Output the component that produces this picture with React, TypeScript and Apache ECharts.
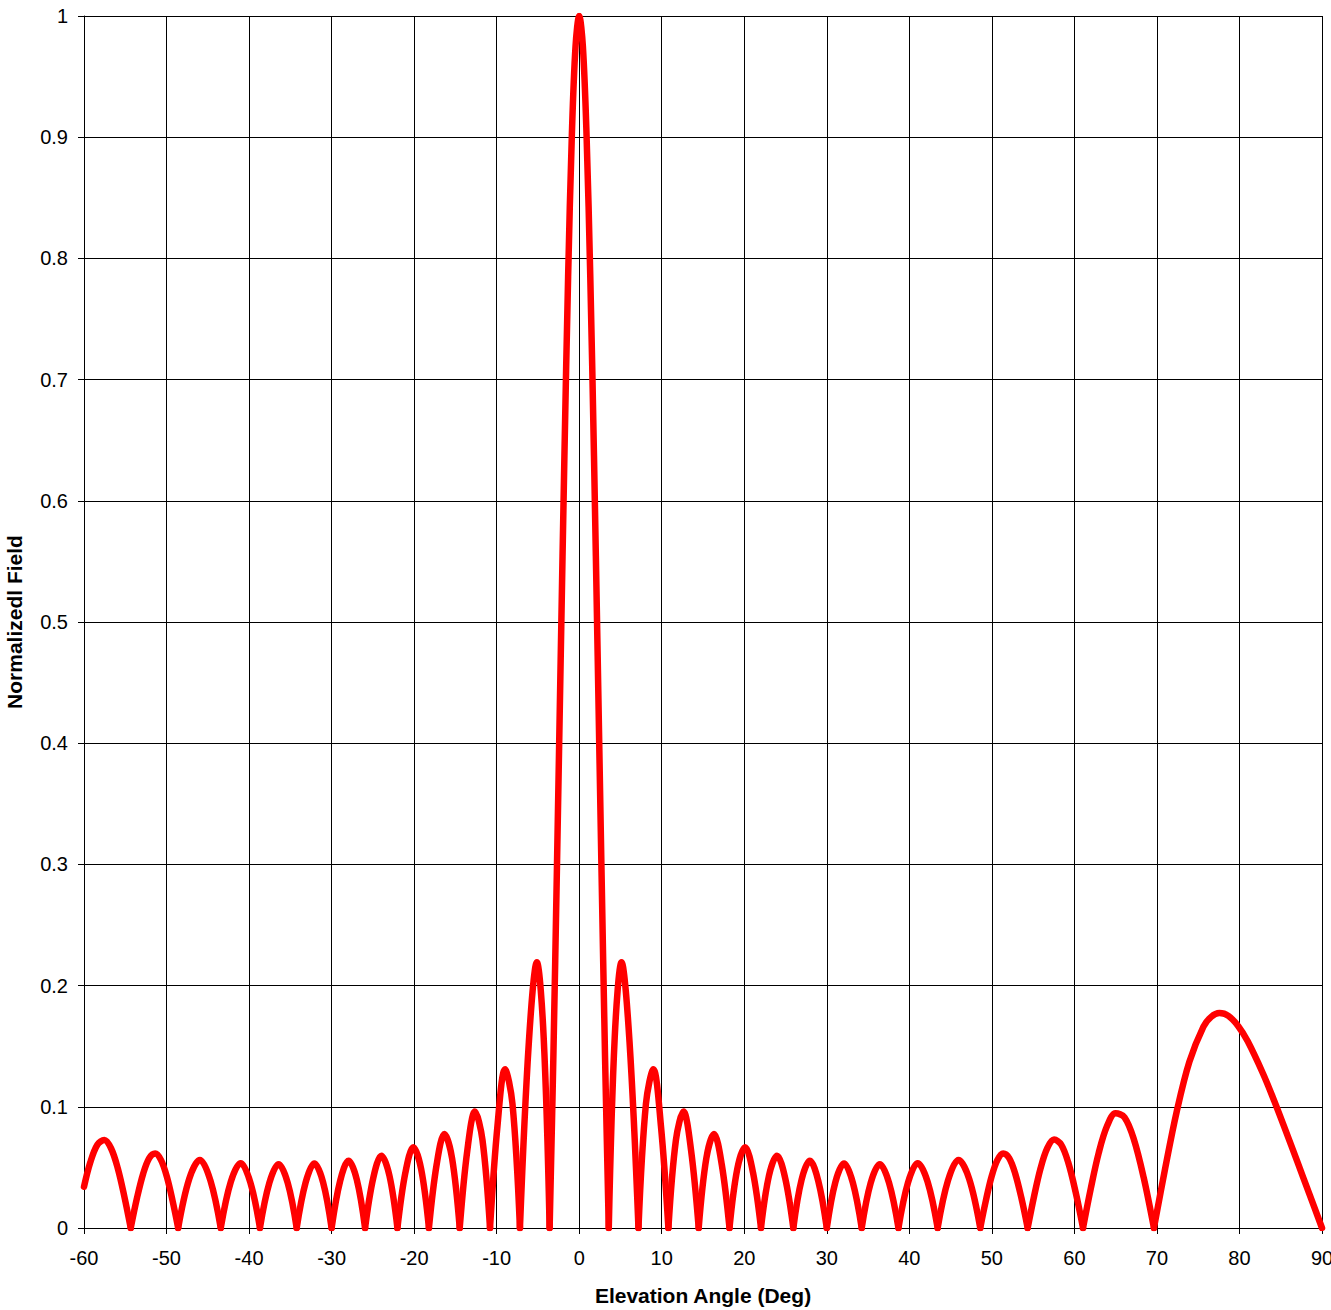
import React, { useEffect, useRef } from "react";
import * as echarts from "echarts";

// Axis settings and titles
const X_MIN = -60;
const X_MAX = 90;
const X_STEP = 10;
const Y_MIN = 0;
const Y_MAX = 1;
const Y_STEP = 0.1;
const X_TITLE = "Elevation Angle (Deg)";
const Y_TITLE = "Normalizedl Field";

// Each lobe of the pattern, from one null to the next (elevation angle in degrees)
const lobeAngles: number[][] = [
  [-60, -59.246, -58.382, -57.538, -56.713, -55.906, -55.116, -54.341],
  [-54.341, -53.58, -52.832, -52.098, -51.375, -50.664, -49.963, -49.272, -48.59],
  [-48.59, -47.255, -45.951, -44.678, -43.432],
  [-43.432, -42.212, -41.014, -39.838, -38.682],
  [-38.682, -37.543, -36.423, -35.318, -34.229],
  [-34.229, -33.153, -32.09, -31.039, -30],
  [-30, -28.971, -27.953, -26.944, -25.944],
  [-25.944, -24.953, -23.969, -22.993, -22.024],
  [-22.024, -21.062, -20.105, -19.155, -18.21],
  [-18.21, -17.27, -16.335, -15.404, -14.478],
  [-14.478, -13.555, -12.636, -11.72, -10.807],
  [-10.807, -9.897, -8.989, -8.084, -7.181],
  [-7.181, -6.099, -5.128, -4.301, -3.583],
  [-3.583, -3.135, -2.687, -2.239, -1.791, -1.343, -0.895, -0.448, 0, 0.448, 0.895, 1.343, 1.791, 2.239, 2.687, 3.135, 3.583],
  [3.583, 4.301, 5.128, 6.099, 7.181],
  [7.181, 8.084, 8.989, 9.897, 10.807],
  [10.807, 11.72, 12.636, 13.555, 14.478],
  [14.478, 15.404, 16.335, 17.27, 18.21],
  [18.21, 19.155, 20.105, 21.062, 22.024],
  [22.024, 22.993, 23.969, 24.953, 25.944],
  [25.944, 26.944, 27.953, 28.971, 30],
  [30, 31.039, 32.09, 33.153, 34.229],
  [34.229, 35.318, 36.423, 37.543, 38.682],
  [38.682, 39.838, 41.014, 42.212, 43.432],
  [43.432, 44.678, 45.951, 47.255, 48.59],
  [48.59, 49.272, 49.963, 50.664, 51.375, 52.098, 52.832, 53.58, 54.341],
  [54.341, 55.116, 55.906, 56.713, 57.538, 58.382, 59.246, 60.133, 61.045],
  [61.045, 61.983, 62.951, 63.954, 64.992, 66.072, 67.202, 68.387, 69.636],
  [69.636, 70.964, 72.387, 73.932, 75.637, 76.571, 77.57, 78.657, 79.859, 81, 82.833, 84, 85.469, 87, 88.5, 90],
];

// Normalized field read for each lobe point
const lobeValues: number[][] = [
  [0.034, 0.054, 0.0687, 0.0726, 0.0656, 0.0492, 0.0261, 0],
  [0, 0.0247, 0.0448, 0.0577, 0.0615, 0.056, 0.0423, 0.0226, 0],
  [0, 0.0405, 0.0562, 0.0391, 0],
  [0, 0.0382, 0.0535, 0.0375, 0],
  [0, 0.0372, 0.0526, 0.0372, 0],
  [0, 0.0374, 0.0532, 0.0379, 0],
  [0, 0.0387, 0.0555, 0.0398, 0],
  [0, 0.0413, 0.0597, 0.0432, 0],
  [0, 0.0456, 0.0666, 0.0487, 0],
  [0, 0.0525, 0.0776, 0.0575, 0],
  [0, 0.064, 0.0961, 0.0726, 0],
  [0, 0.0847, 0.131, 0.1023, 0],
  [0, 0.1535, 0.2192, 0.1569, 0],
  [0, 0.1397, 0.3009, 0.4714, 0.6373, 0.7847, 0.9006, 0.9746, 1, 0.9746, 0.9006, 0.7847, 0.6373, 0.4714, 0.3009, 0.1397, 0],
  [0, 0.1569, 0.2192, 0.1535, 0],
  [0, 0.1023, 0.131, 0.0847, 0],
  [0, 0.0726, 0.0961, 0.064, 0],
  [0, 0.0575, 0.0776, 0.0525, 0],
  [0, 0.0487, 0.0666, 0.0456, 0],
  [0, 0.0432, 0.0597, 0.0413, 0],
  [0, 0.0398, 0.0555, 0.0387, 0],
  [0, 0.0379, 0.0532, 0.0374, 0],
  [0, 0.0372, 0.0526, 0.0372, 0],
  [0, 0.0375, 0.0535, 0.0382, 0],
  [0, 0.0391, 0.0562, 0.0405, 0],
  [0, 0.0226, 0.0423, 0.056, 0.0615, 0.0577, 0.0448, 0.0247, 0],
  [0, 0.0262, 0.0494, 0.0659, 0.073, 0.069, 0.0542, 0.0301, 0],
  [0, 0.0325, 0.0621, 0.0841, 0.0946, 0.0913, 0.0733, 0.0418, 0],
  [0, 0.0479, 0.0957, 0.1371, 0.1661, 0.1742, 0.1773, 0.175, 0.1665, 0.154, 0.1277, 0.1085, 0.0826, 0.0549, 0.0275, 0],
];

const FONT = "'Liberation Sans', Arial, Helvetica, sans-serif";

export default function App() {
  const ref = useRef<HTMLDivElement>(null);

  useEffect(() => {
    if (!ref.current) return;
    const chart = echarts.init(ref.current, undefined, { renderer: "svg" });
    const series = lobeAngles.map((angles, i) => ({
      type: "line",
      data: angles.map((a, j) => [a, lobeValues[i][j]]),
      smooth: 0.35,
      showSymbol: false,
      symbol: "none",
      silent: true,
      lineStyle: { color: "#ff0000", width: 6.5, cap: "round", join: "round" },
      itemStyle: { color: "#ff0000" },
    }));
    chart.setOption({
      animation: false,
      backgroundColor: "#ffffff",
      textStyle: { fontFamily: FONT },
      grid: {
        left: 84,
        right: 9,
        top: 16,
        bottom: 82,
        containLabel: false,
        outerBoundsMode: "none",
      },
      xAxis: {
        type: "value",
        min: X_MIN,
        max: X_MAX,
        interval: X_STEP,
        name: X_TITLE,
        nameLocation: "middle",
        nameGap: 57,
        nameTextStyle: { fontSize: 21, fontWeight: "bold", color: "#000", fontFamily: FONT },
        axisLine: { show: true, onZero: false, lineStyle: { color: "#000", width: 1 } },
        axisTick: { show: true, inside: false, length: 6, lineStyle: { color: "#000", width: 1 } },
        axisLabel: { color: "#000", fontSize: 20, margin: 20, fontFamily: FONT },
        splitLine: { show: true, lineStyle: { color: "#000", width: 1 } },
      },
      yAxis: {
        type: "value",
        min: Y_MIN,
        max: Y_MAX,
        interval: Y_STEP,
        name: Y_TITLE,
        nameLocation: "middle",
        nameGap: 59,
        nameTextStyle: { fontSize: 21, fontWeight: "bold", color: "#000", fontFamily: FONT },
        axisLine: { show: true, onZero: false, lineStyle: { color: "#000", width: 1 } },
        axisTick: { show: true, inside: false, length: 6, lineStyle: { color: "#000", width: 1 } },
        axisLabel: { color: "#000", fontSize: 20, margin: 16, fontFamily: FONT },
        splitLine: { show: true, lineStyle: { color: "#000", width: 1 } },
      },
      series,
    });
    return () => chart.dispose();
  }, []);

  return (
    <div
      ref={ref}
      style={{ position: "absolute", left: 0, top: 0, width: 1331, height: 1310 }}
    />
  );
}
